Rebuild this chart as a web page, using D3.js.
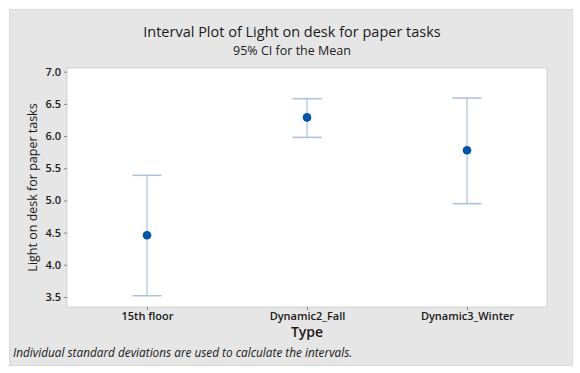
<!DOCTYPE html>
<html>
<head>
<meta charset="utf-8">
<script src="https://cdn.jsdelivr.net/npm/d3@7"></script>
<style>
  body { margin: 0; background: #fff; }
  text { font-family: "Open Sans", "Noto Sans", sans-serif; fill: #1a1a1a; }
</style>
</head>
<body>
<div id="chart"></div>
<script>
// data
var types = ["15th floor", "Dynamic2_Fall", "Dynamic3_Winter"];
var means = [4.46, 6.29, 5.78];
var lower = [3.52, 5.98, 4.95];
var upper = [5.39, 6.58, 6.59];
var yTicks = [3.5, 4.0, 4.5, 5.0, 5.5, 6.0, 6.5, 7.0];

var W = 580, H = 373;
var m = {left: 67, right: 33, top: 68, bottom: 66};

var svg = d3.select("#chart").append("svg")
  .attr("width", W).attr("height", H);

// grey frame
svg.append("rect")
  .attr("x", 9.5).attr("y", 9.5).attr("width", 563).attr("height", 356)
  .attr("fill", "#e6e6e6").attr("stroke", "#dadada");

var x = d3.scalePoint().domain(types)
  .range([m.left, W - m.right]).padding(0.5);
var y = d3.scaleLinear().domain([3.345, 7.057])
  .range([H - m.bottom, m.top]);

// plot area
svg.append("rect")
  .attr("x", m.left).attr("y", m.top)
  .attr("width", W - m.left - m.right).attr("height", H - m.top - m.bottom)
  .attr("fill", "#fff").attr("stroke", "#d2d2d2");

// titles
svg.append("text").attr("x", 292).attr("y", 37)
  .attr("text-anchor", "middle").style("font-size", "14.5px")
  .text("Interval Plot of Light on desk for paper tasks");
svg.append("text").attr("x", 292).attr("y", 55)
  .attr("text-anchor", "middle").style("font-size", "12.5px")
  .text("95% CI for the Mean");

// axes
var yAxis = svg.append("g")
  .attr("transform", "translate(" + m.left + ",0)")
  .call(d3.axisLeft(y).tickValues(yTicks).tickFormat(d3.format(".1f")).tickSize(3).tickPadding(3));
var xAxis = svg.append("g")
  .attr("transform", "translate(0," + (H - m.bottom) + ")")
  .call(d3.axisBottom(x).tickSize(3).tickPadding(2));
[yAxis, xAxis].forEach(function (a) {
  a.select(".domain").remove();
  a.selectAll(".tick line").attr("stroke", "#888");
  a.selectAll(".tick text").style("font-size", "11px").style("font-weight", "600")
    .style("font-family", "'Open Sans', sans-serif").attr("fill", "#1a1a1a");
});

svg.append("text")
  .attr("transform", "translate(37," + ((m.top + H - m.bottom) / 2) + ") rotate(-90)")
  .attr("text-anchor", "middle").style("font-size", "12.5px")
  .text("Light on desk for paper tasks");
svg.append("text").attr("x", x(types[1])).attr("y", 337)
  .attr("text-anchor", "middle").style("font-size", "14px").style("font-weight", "600")
  .text("Type");

svg.append("text").attr("x", 13).attr("y", 357)
  .style("font-size", "11.8px").style("font-style", "italic")
  .text("Individual standard deviations are used to calculate the intervals.");

// intervals
var g = svg.append("g");
var lineColor = "#a8c2dc";
types.forEach(function (t, i) {
  var cx = x(t);
  g.append("line").attr("x1", cx).attr("x2", cx)
    .attr("y1", y(lower[i])).attr("y2", y(upper[i]))
    .attr("stroke", lineColor).attr("stroke-width", 1.2);
  [lower[i], upper[i]].forEach(function (v) {
    g.append("line").attr("x1", cx - 14.5).attr("x2", cx + 14.5)
      .attr("y1", y(v)).attr("y2", y(v))
      .attr("stroke", lineColor).attr("stroke-width", 1.5);
  });
  g.append("circle").attr("cx", cx).attr("cy", y(means[i])).attr("r", 4.3)
    .attr("fill", "#0055a5");
});
</script>
</body>
</html>
